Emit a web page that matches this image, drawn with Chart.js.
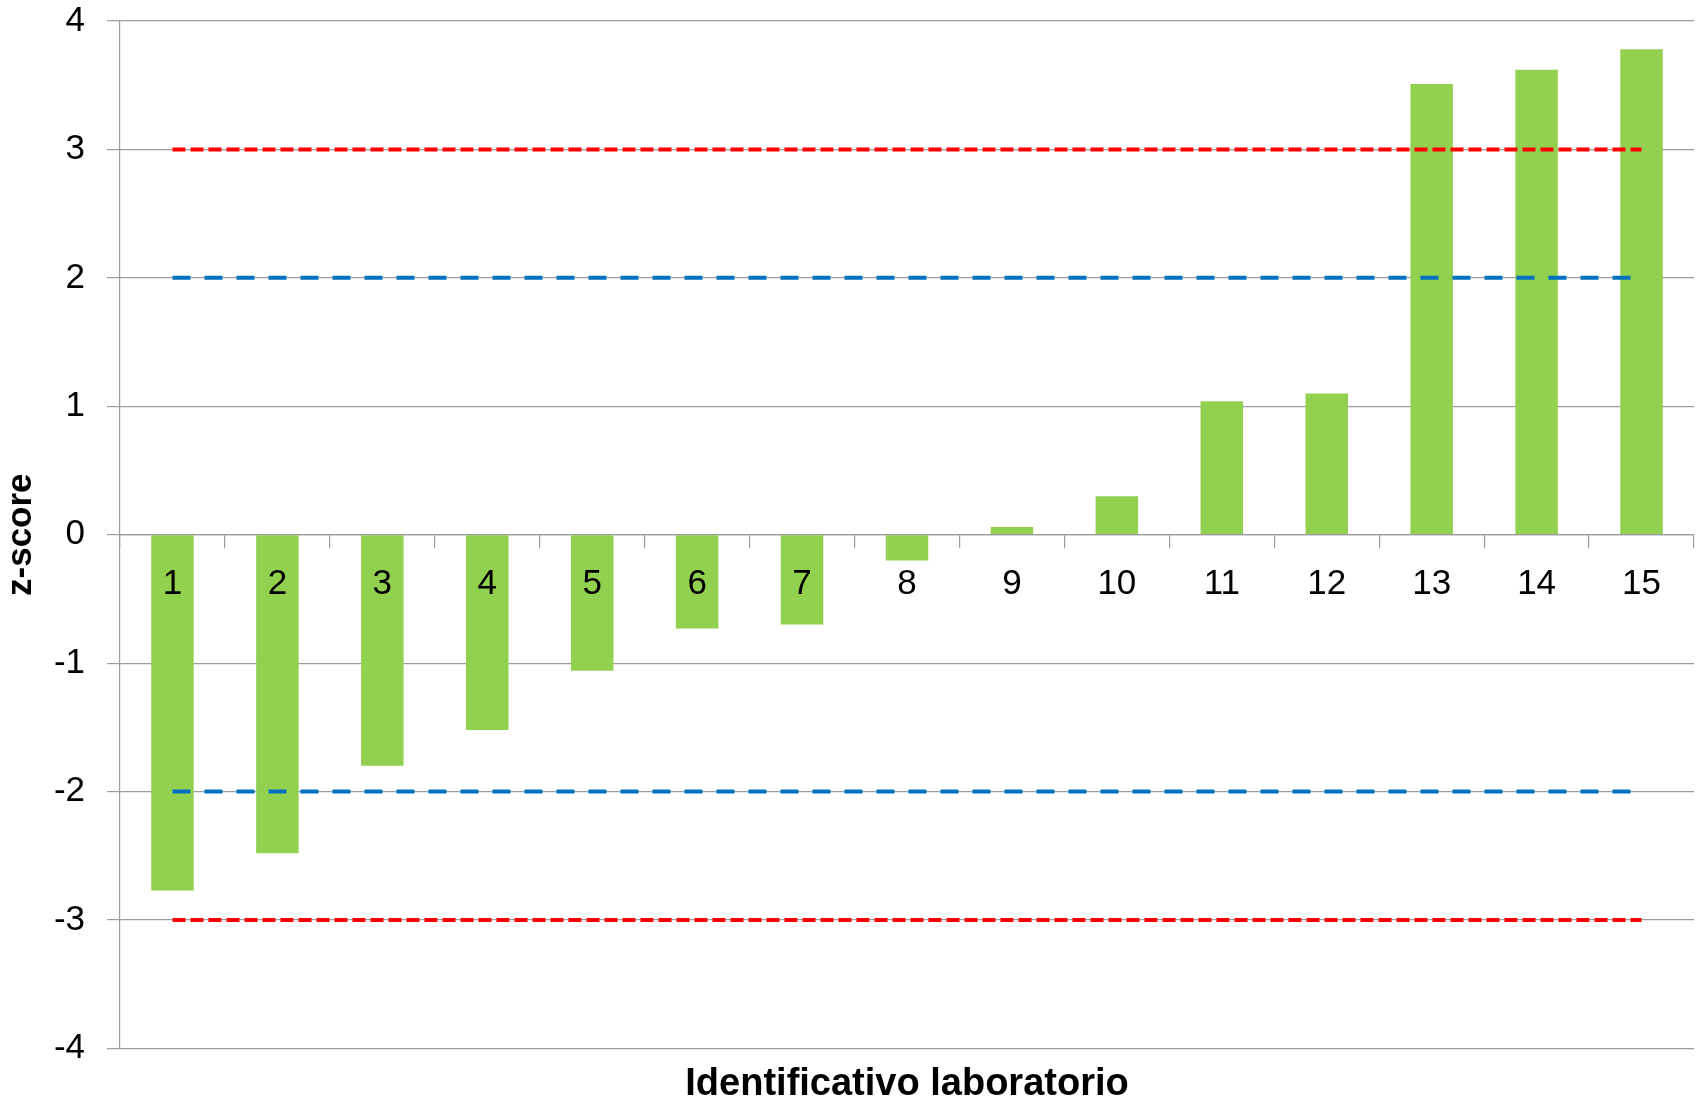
<!DOCTYPE html>
<html>
<head>
<meta charset="utf-8">
<title>z-score laboratori</title>
<script src="https://cdn.jsdelivr.net/npm/chart.js@4.4.1/dist/chart.umd.min.js"></script>
<style>
    html, body { margin: 0; padding: 0; background: #ffffff; }
    #wrap { width: 1707px; height: 1098px; }
</style>
</head>
<body>
<div id="wrap"><canvas id="zChart"></canvas></div>
<script>
// Chart data
const labs = ['1', '2', '3', '4', '5', '6', '7', '8', '9', '10', '11', '12', '13', '14', '15'];
const zScores = [-2.77, -2.48, -1.80, -1.52, -1.06, -0.73, -0.70, -0.20, 0.06, 0.30, 1.04, 1.10, 3.51, 3.62, 3.78];
const limitUp3 = [3, 3, 3, 3, 3, 3, 3, 3, 3, 3, 3, 3, 3, 3, 3];
const limitUp2 = [2, 2, 2, 2, 2, 2, 2, 2, 2, 2, 2, 2, 2, 2, 2];
const limitDown2 = [-2, -2, -2, -2, -2, -2, -2, -2, -2, -2, -2, -2, -2, -2, -2];
const limitDown3 = [-3, -3, -3, -3, -3, -3, -3, -3, -3, -3, -3, -3, -3, -3, -3];

const gridGrey = '#9d9d9d';
const fontFam = "'Liberation Sans', Arial, sans-serif";

const ctx = document.getElementById('zChart').getContext('2d');

// dashed limit line helper
function limitLine(values, color, dash) {
    return {
        type: 'line',
        data: values,
        borderColor: color,
        borderWidth: 4,
        borderDash: dash,
        borderCapStyle: 'butt',
        pointRadius: 0,
        fill: false,
        order: 0
    };
}

new Chart(ctx, {
    type: 'bar',
    data: {
        labels: labs,
        datasets: [
            limitLine(limitUp3, '#ff0000', [13, 5]),
            limitLine(limitDown3, '#ff0000', [13, 5]),
            limitLine(limitUp2, '#0070c0', [18, 14]),
            limitLine(limitDown2, '#0070c0', [18, 14]),
            {
                type: 'bar',
                data: zScores,
                backgroundColor: '#92d050',
                borderWidth: 0,
                categoryPercentage: 1,
                barPercentage: 0.405,
                order: 1
            }
        ]
    },
    options: {
        responsive: true,
        maintainAspectRatio: false,
        animation: false,
        layout: {
            padding: { top: 0, right: 13, left: 0, bottom: 0 }
        },
        plugins: {
            legend: { display: false },
            tooltip: { enabled: false },
            title: {
                display: true,
                text: 'Identificativo laboratorio',
                position: 'bottom',
                fullSize: false,
                color: '#000000',
                font: { family: fontFam, size: 38, weight: 'bold', lineHeight: 0.7 },
                padding: { top: 23, bottom: 0 }
            }
        },
        scales: {
            x: {
                position: { y: 0 },
                offset: true,
                grid: {
                    offset: true,
                    drawOnChartArea: false,
                    drawTicks: true,
                    tickLength: 13,
                    color: gridGrey,
                    lineWidth: 1.2
                },
                border: { display: true, color: gridGrey, width: 1.2 },
                ticks: {
                    z: 1, // labels sit on top of the bars
                    color: '#000000',
                    font: { family: fontFam, size: 35 },
                    padding: 16,
                    maxRotation: 0,
                    autoSkip: false
                }
            },
            y: {
                min: -4,
                max: 4,
                ticks: {
                    stepSize: 1,
                    color: '#000000',
                    font: { family: fontFam, size: 35 },
                    padding: 22
                },
                grid: {
                    color: gridGrey,
                    lineWidth: 1.2,
                    tickLength: 13
                },
                border: { display: true, color: gridGrey, width: 1.2 },
                title: {
                    display: true,
                    text: 'z-score',
                    color: '#000000',
                    font: { family: fontFam, size: 35, weight: 'bold' },
                    padding: { top: 0, bottom: 0 }
                },
                afterFit: function(scale) {
                    scale.width = 120;
                    // tick padding is horizontal only here, don't let it push the plot down
                    scale.paddingTop = 21;
                    scale.paddingBottom = 21;
                }
            }
        }
    }
});
</script>
</body>
</html>
